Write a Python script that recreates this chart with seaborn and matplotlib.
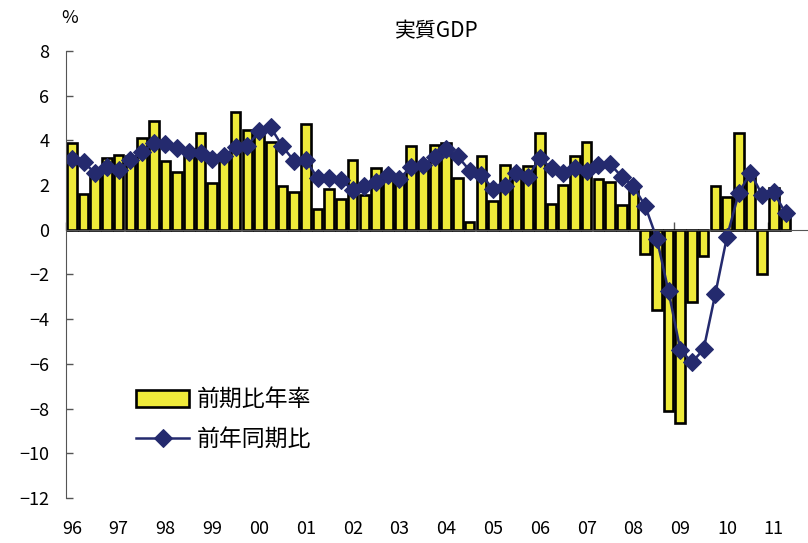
import numpy as np
import pandas as pd
import matplotlib
matplotlib.use("Agg")
import matplotlib.pyplot as plt
import seaborn as sns

# year labels (1996Q1 - 2011Q2, quarterly)
years = ['96', '97', '98', '99', '00', '01', '02', '03',
         '04', '05', '06', '07', '08', '09', '10', '11']

# 前期比年率 (bars)
qoq_annual = [3.9, 1.6, 2.5, 3.2, 3.35, 3.3, 4.1, 4.85,
              3.1, 2.6, 3.6, 4.35, 2.1, 3.2, 5.25, 4.45,
              4.4, 3.95, 1.97, 1.67, 4.74, 0.92, 1.82, 1.37,
              3.13, 1.56, 2.76, 2.5, 2.25, 3.73, 2.8, 3.78,
              3.88, 2.3, 0.37, 3.28, 1.3, 2.9, 2.6, 2.86,
              4.35, 1.16, 2.0, 3.32, 3.95, 2.28, 2.16, 1.1,
              2.0, -1.1, -3.58, -8.1, -8.63, -3.25, -1.15, 1.94,
              1.45, 4.35, 2.45, -2.0, 1.89, 0.78]

# 前年同期比 (line)
yoy = [3.16, 3.03, 2.53, 2.83, 2.68, 3.13, 3.47, 3.87,
       3.83, 3.68, 3.5, 3.43, 3.16, 3.3, 3.7, 3.76,
       4.4, 4.58, 3.73, 3.08, 3.13, 2.31, 2.31, 2.24,
       1.79, 1.94, 2.16, 2.43, 2.28, 2.83, 2.88, 3.25,
       3.6, 3.28, 2.65, 2.46, 1.82, 1.97, 2.53, 2.38,
       3.2, 2.76, 2.56, 2.76, 2.61, 2.91, 2.94, 2.38,
       1.94, 1.07, -0.4, -2.76, -5.37, -5.93, -5.34, -2.86,
       -0.3, 1.64, 2.56, 1.56, 1.67, 0.75]

quarters = [f"{y}Q{q}" for y in years for q in range(1, 5)][:len(qoq_annual)]
df = pd.DataFrame({"quarter": quarters, "pos": np.arange(len(quarters)),
                   "qoq": qoq_annual, "yoy": yoy})

bar_color = "#EEEA3A"
line_color = "#242A6E"

plt.rcParams['font.family'] = ['Noto Sans CJK JP', 'DejaVu Sans']

fig = plt.figure(figsize=(8.08, 5.43), dpi=100)
ax = fig.add_axes([66 / 808, 45 / 543, 742 / 808, 447 / 543])

sns.barplot(data=df, x="pos", y="qoq", color=bar_color, width=0.82,
            edgecolor="black", linewidth=1.9, saturation=1, ax=ax,
            label="前期比年率", native_scale=True)
sns.lineplot(data=df, x="pos", y="yoy", color=line_color, lw=1.8,
             marker="D", markersize=9, markeredgecolor=line_color,
             ax=ax, label="前年同期比")
ax.set_axisbelow(True)

ax.set_xlim(-0.5, -0.5 + 742 / 11.7)
ax.set_ylim(-12, 8)
ax.set_yticks(range(-12, 9, 2))
ax.tick_params(axis="y", direction="in", length=5, width=1, pad=12,
               labelsize=13, color="#555555")

# x axis line at zero with year-boundary ticks
ax.spines["bottom"].set_position(("data", 0))
ax.spines["bottom"].set_color("#555555")
ax.spines["top"].set_visible(False)
ax.spines["right"].set_visible(False)
ax.spines["left"].set_color("#555555")
ax.set_xticks(np.arange(len(years)) * 4 - 0.5)
ax.set_xticklabels([])
ax.tick_params(axis="x", direction="in", length=6, width=1, color="#555555")

# year labels along the bottom
sec = ax.secondary_xaxis(0)
sec.set_xticks(np.arange(len(years)) * 4)
sec.set_xticklabels(years)
sec.tick_params(length=0, pad=16, labelsize=13)
sec.spines["bottom"].set_visible(False)

ax.set_xlabel("")
ax.set_ylabel("")
ax.set_title("実質GDP", fontsize=15, pad=10)
fig.text(70 / 808, 1 - 18 / 543, "%", fontsize=13, ha="center", va="center")

handles, labels = ax.get_legend_handles_labels()
order = [labels.index("前期比年率"), labels.index("前年同期比")]
ax.legend([handles[i] for i in order], [labels[i] for i in order],
          loc="upper left", bbox_to_anchor=(0.067, 0.292), frameon=False,
          fontsize=16.5, handlelength=2.3, handleheight=0.75,
          labelspacing=0.75, handletextpad=0.35)

fig.savefig("out.png", dpi=100)
